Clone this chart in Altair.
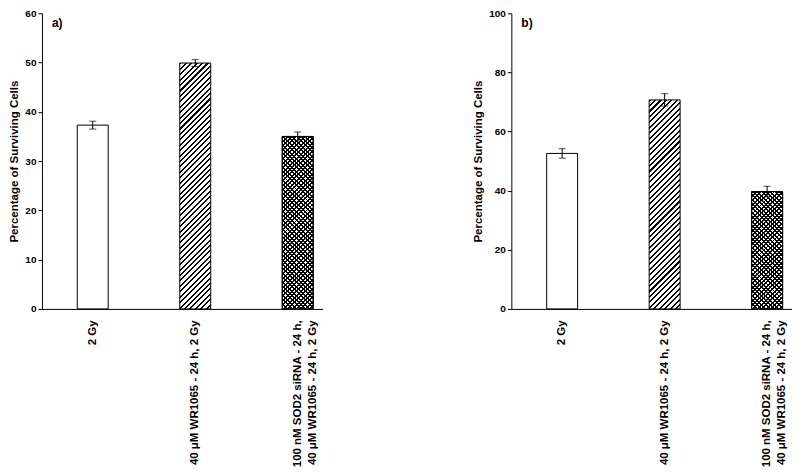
import altair as alt
import pandas as pd

# ---- data ----
categories = [
    "2 Gy",
    "40 μM WR1065 - 24 h, 2 Gy",
    "100 nM SOD2 siRNA - 24 h,\n40 μM WR1065 - 24 h, 2 Gy",
]
values_a = [37.3, 49.9, 35.0]
errors_a = [0.8, 0.7, 0.9]
values_b = [52.6, 70.7, 39.7]
errors_b = [1.6, 2.1, 1.8]
yticks_a = [0, 10, 20, 30, 40, 50, 60]
yticks_b = [0, 20, 40, 60, 80, 100]
panel_labels = ["a)", "b)"]
y_title = "Percentage of Surviving Cells"

# ---- layout / style ----
W, H = 281, 296
PI, PO, ALIGN = 0.698, 0.218, 0.79
FONT = "Liberation Sans"
step = W / (len(categories) - PI + 2 * PO)
BW = step * (1 - PI)


def stripes(w, h, period, frac, direction, bg):
    n = max(1, round((w + h) / period))
    stops = []
    for k in range(n):
        a, b, c = k / n, (k + frac) / n, (k + 1) / n
        stops += [
            {"color": "#000000", "offset": a},
            {"color": "#000000", "offset": b},
            {"color": bg, "offset": b},
            {"color": bg, "offset": c},
        ]
    s = (w + h) / (w * w + h * h)
    if direction == "/":
        x1, y1, x2, y2 = 0, 0, w * s, h * s
    else:
        x1, y1, x2, y2 = 0, 1, w * s, 1 - h * s
    return {"gradient": "linear", "stops": stops,
            "x1": x1, "y1": y1, "x2": x2, "y2": y2}


def panel(values, errors, ymax, yticks, label):
    df = pd.DataFrame({
        "cat": categories,
        "idx": list(range(len(categories))),
        "val": values,
        "lo": [v - e for v, e in zip(values, errors)],
        "hi": [v + e for v, e in zip(values, errors)],
    })
    X = alt.X(
        "cat:N",
        sort=categories,
        scale=alt.Scale(domain=categories, paddingInner=PI, paddingOuter=PO, align=ALIGN),
        axis=alt.Axis(
            title=None, labelAngle=270, labelFontSize=11.5, ticks=False,
            labelPadding=11, labelLineHeight=15, labelLimit=400,
            labelExpr="split(datum.label, '\\n')",
        ),
    )
    Y = alt.Y(
        "val:Q",
        scale=alt.Scale(domain=[0, ymax], nice=False),
        axis=alt.Axis(
            values=yticks, title=y_title, labelFontSize=10, tickSize=4,
            labelPadding=2, titleFontSize=11.5, titlePadding=5,
        ),
    )
    base = alt.Chart(df)
    layers = []
    hpx = [v / ymax * H for v in values]
    # bar 1: white
    layers.append(base.transform_filter(alt.datum.idx == 0)
                  .mark_bar(fill="white", stroke="black", strokeWidth=1)
                  .encode(x=X, y=Y))
    # bar 2: diagonal hatch
    layers.append(base.transform_filter(alt.datum.idx == 1)
                  .mark_bar(fill=stripes(BW, hpx[1], 5.4, 0.38, "/", "#ffffff"),
                            stroke="black", strokeWidth=1)
                  .encode(x=X, y=Y))
    # bar 3: cross hatch
    layers.append(base.transform_filter(alt.datum.idx == 2)
                  .mark_bar(fill=stripes(BW, hpx[2], 4.4, 0.45, "/", "#ffffff"),
                            stroke="black", strokeWidth=1)
                  .encode(x=X, y=Y))
    layers.append(base.transform_filter(alt.datum.idx == 2)
                  .mark_bar(fill=stripes(BW, hpx[2], 4.4, 0.45, "\\", "rgba(255,255,255,0)"),
                            stroke="black", strokeWidth=1)
                  .encode(x=X, y=Y))
    # error bars
    layers.append(base.mark_rule(color="black", strokeWidth=1)
                  .encode(x=X, y="lo:Q", y2="hi:Q"))
    layers.append(base.transform_fold(["lo", "hi"], as_=["k", "v"])
                  .mark_tick(color="black", size=7, thickness=1)
                  .encode(x=X, y="v:Q"))
    # panel label
    layers.append(alt.Chart(pd.DataFrame({"t": [label]}))
                  .mark_text(align="left", baseline="alphabetic", fontSize=12,
                             fontWeight="bold", font=FONT, color="black")
                  .encode(x=alt.value(10), y=alt.value(14), text="t:N"))
    return alt.layer(*layers).properties(width=W, height=H)


pa = panel(values_a, errors_a, 60, yticks_a, panel_labels[0])
pb = panel(values_b, errors_b, 100, yticks_b, panel_labels[1])

chart = (
    alt.hconcat(pa, pb, spacing=150)
    .resolve_scale(x="independent", y="independent")
    .properties(padding={"left": 0, "top": 0, "right": 0, "bottom": 0})
    .configure_axis(
        labelFont=FONT, titleFont=FONT, labelFontWeight="bold", titleFontWeight="bold",
        labelColor="black", titleColor="black", domainColor="black", tickColor="black",
        domainWidth=1, tickWidth=1, grid=False,
    )
    .configure_view(stroke=None)
)

chart.save("out.html", embed_options={"renderer": "svg", "actions": False})
